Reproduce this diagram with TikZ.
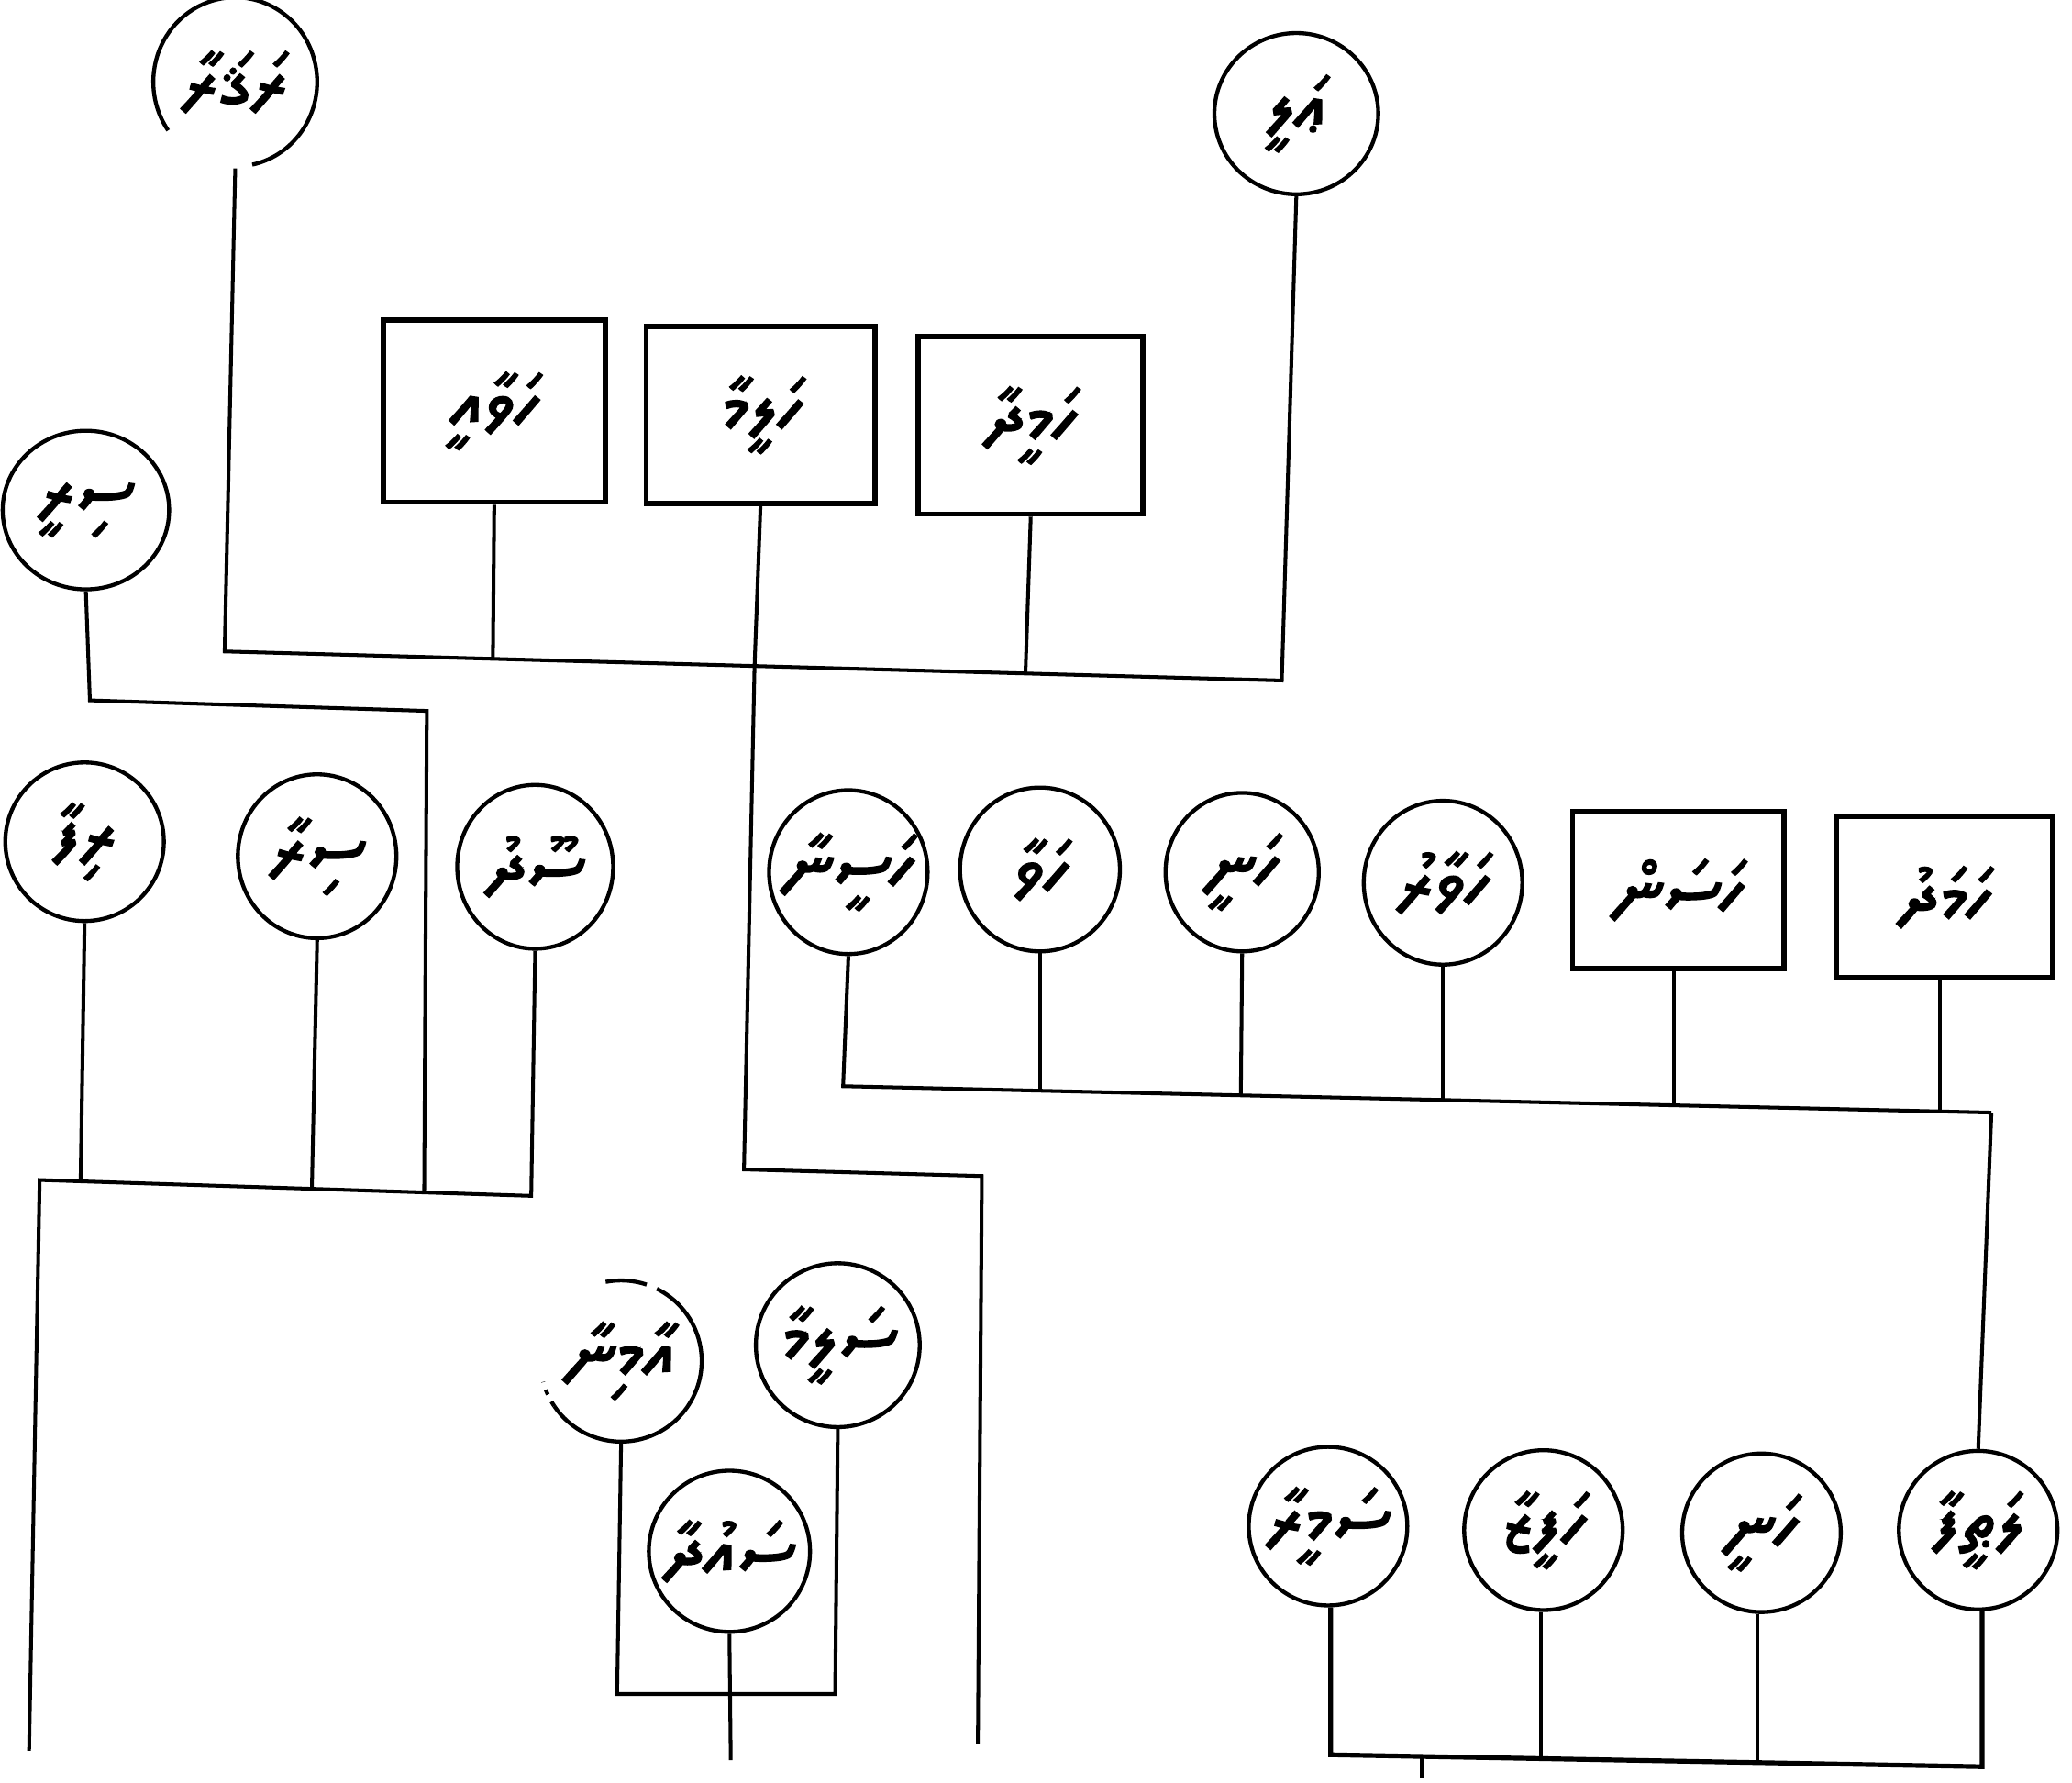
\documentclass[tikz,border=0pt]{standalone}
\usepackage{fontspec}
\usetikzlibrary{shapes.geometric}
\newfontfamily\thaanafont[Script=Thaana, FakeBold=2.5]{Noto Sans Thaana}
\newcommand{\dv}[1]{\thaanafont #1}
\tikzset{
  conn/.style={line width=1.4pt, line join=miter},
  person/.style={ellipse, draw, line width=1.5pt, inner sep=-14pt,
    font=\fontsize{28}{32}\selectfont},
  openperson/.style={person, draw=none},
  boxnode/.style={rectangle, draw, line width=2pt, inner sep=0pt,
    font=\fontsize{28}{32}\selectfont},
  ring/.style={line width=1.5pt},
}
\begin{document}
\begin{tikzpicture}[x=0.5pt, y=-0.5pt]
\useasboundingbox (0,0) rectangle (1568,1349);

% ---------- top generation ----------
\node[openperson, minimum width=62pt, minimum height=64pt] (tl) at (178,62) {\dv{ރަޤަރާ}};
\draw[ring] (tl.center) ++(-78:31pt and 32pt) arc[start angle=-78, end angle=215, x radius=31pt, y radius=32pt];
\node[person, minimum width=62pt, minimum height=61pt] (tr) at (981,86) {\dv{ޢަލީ}};

\node[boxnode, minimum width=84pt, minimum height=69pt] (bx1) at (374,311) {\dv{ހަވާއީ}};
\node[boxnode, minimum width=86.5pt, minimum height=67pt] (bx2) at (575.5,314) {\dv{ހަލީމާ}};
\node[boxnode, minimum width=85pt, minimum height=67pt] (bx3) at (780,322) {\dv{ހަމީދާ}};

\coordinate (topL) at (170,493);
\coordinate (topR) at (970,515);
\coordinate (j1) at (373,498.6);
\coordinate (j2) at (571,504);
\coordinate (j3) at (776,509.6);

\draw[conn] (tl.south) -- (topL) -- (topR) -- (tr.south);
\draw[conn] (bx1.south) -- (j1);
\draw[conn] (bx2.south) -- (j2);
\draw[conn] (bx3.south) -- (j3);

% descent from the middle box
\coordinate (mA) at (563,885);
\coordinate (mB) at (743,890);
\coordinate (mEnd) at (740,1320);
\draw[conn] (j2) -- (mA) -- (mB) -- (mEnd);

% ---------- left branch ----------
\node[person, minimum width=63pt, minimum height=60pt] (lc) at (65,386) {\dv{ސިރީ}};
\coordinate (lA) at (68,530);
\coordinate (lB) at (323,538);
\coordinate (lC) at (321,902.4);
\draw[conn] (lc.south) -- (lA) -- (lB) -- (lC);

\node[person, minimum width=60pt, minimum height=60pt] (c1) at (64,637) {\dv{ރިފާ}};
\node[person, minimum width=60pt, minimum height=62pt] (c2) at (240,648) {\dv{ސިރާ}};
\node[person, minimum width=59pt, minimum height=62pt] (c3) at (405,656) {\dv{ސޫދު}};

\coordinate (hL) at (30,893);
\coordinate (hR) at (402,905);
\coordinate (k1) at (61,894);
\coordinate (k2) at (236,899.6);
\coordinate (leftEnd) at (22,1325);
\draw[conn] (leftEnd) -- (hL) -- (hR) -- (c3.south);
\draw[conn] (c1.south) -- (k1);
\draw[conn] (c2.south) -- (k2);

% ---------- middle cluster ----------
\node[openperson, minimum width=61pt, minimum height=61pt] (m1) at (470,1030) {\dv{އާމިނާ}};
\draw[ring] (m1.center) ++(101:30.5pt) arc[start angle=101, end angle=71.5, radius=30.5pt];
\draw[ring] (m1.center) ++(63.7:30.5pt) arc[start angle=63.7, end angle=-146, radius=30.5pt];
\draw[ring, dash pattern=on 2pt off 3pt] (m1.center) ++(214:30.5pt) arc[start angle=214, end angle=195, radius=30.5pt];
\node[person, minimum width=62pt, minimum height=62pt] (m2) at (634,1018) {\dv{ސަލީމާ}};
\node[person, minimum width=61pt, minimum height=61pt] (m3) at (552,1174) {\dv{ސައުދާ}};

\coordinate (mL) at (467,1282);
\coordinate (mR) at (632,1282);
\coordinate (m3End) at (553,1332);
\draw[conn] (m1.south) -- (mL) -- (mR) -- (m2.south);
\draw[conn] (m3.south) -- (m3End);

% ---------- right branch ----------
\node[person, minimum width=60pt, minimum height=62pt] (r1) at (642,660) {\dv{ހަސީނާ}};
\node[person, minimum width=60.5pt, minimum height=62pt] (r2) at (787,658) {\dv{ހަވާ}};
\node[person, minimum width=58pt, minimum height=60pt] (r3) at (940,660) {\dv{ހަނީ}};
\node[person, minimum width=60pt, minimum height=62pt] (r4) at (1092,668) {\dv{ހަވާރު}};
\node[boxnode, minimum width=80pt, minimum height=59.5pt] (r5) at (1270,673.5) {\dv{ހަސަން}};
\node[boxnode, minimum width=81.5pt, minimum height=61pt] (r6) at (1471.5,679) {\dv{ހަމަދު}};

\coordinate (rA) at (638,822);
\coordinate (rB) at (1507,842);
\coordinate (q2) at (787,825.4);
\coordinate (q3) at (939,828.9);
\coordinate (q4) at (1092,832.4);
\coordinate (q5) at (1267,836.5);
\coordinate (q6) at (1468,841.1);
\draw[conn] (r1.south) -- (rA) -- (rB);
\draw[conn] (r2.south) -- (q2);
\draw[conn] (r3.south) -- (q3);
\draw[conn] (r4.south) -- (q4);
\draw[conn] (r5.south -| q5) -- (q5);
\draw[conn] (r6.south -| q6) -- (q6);

% ---------- bottom right ----------
\node[person, minimum width=60pt, minimum height=60pt] (b1) at (1005,1155) {\dv{ސަމީރާ}};
\node[person, minimum width=60pt, minimum height=60.5pt] (b2) at (1168,1158) {\dv{ހަފީޒާ}};
\node[person, minimum width=60pt, minimum height=60pt] (b3) at (1333,1160) {\dv{ހަނީ}};
\node[person, minimum width=60pt, minimum height=60pt] (b4) at (1497,1158) {\dv{ލަޠީފާ}};

\draw[conn] (rB) -- (b4.north);

\coordinate (bL) at (1007,1328);
\coordinate (bR) at (1500,1337);
\coordinate (p2) at (1166,1331);
\coordinate (p3) at (1330,1334);
\coordinate (tickTop) at (1076,1329.3);
\coordinate (tickEnd) at (1076,1346);
\draw[conn, line width=1.8pt] (b1.south -| bL) -- (bL) -- (bR) -- (b4.south -| bR);
\draw[conn] (b2.south -| p2) -- (p2);
\draw[conn] (b3.south -| p3) -- (p3);
\draw[conn] (tickTop) -- (tickEnd);
\end{tikzpicture}
\end{document}
